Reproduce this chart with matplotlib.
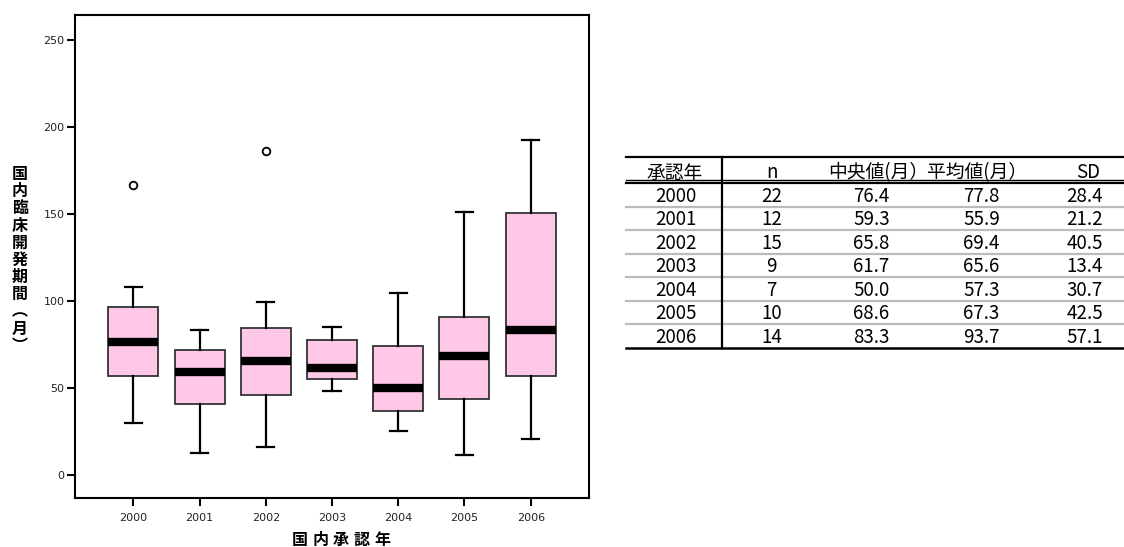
import matplotlib
matplotlib.use('Agg')
import matplotlib.pyplot as plt

plt.rcParams['font.family'] = ['Noto Sans CJK JP', 'DejaVu Sans']

# 箱ひげ図のデータ
years = ['2000', '2001', '2002', '2003', '2004', '2005', '2006']
whis_lo = [30.1, 12.8, 16.3, 48.5, 25.3, 11.7, 20.5]
q1 = [56.9, 40.8, 46.0, 55.4, 36.8, 43.5, 56.9]
medians = [76.4, 59.3, 65.8, 61.7, 50.0, 68.6, 83.3]
q3 = [96.4, 71.8, 84.3, 77.6, 74.3, 91.0, 150.6]
whis_hi = [108.2, 83.3, 99.4, 85.2, 104.6, 151.3, 192.5]
outliers = [[166.7], [], [186.2], [], [], [], []]

# 表のデータ
tbl_header = ['承認年', 'n', '中央値(月）', '平均値(月）', 'SD']
tbl_n = ['22', '12', '15', '9', '7', '10', '14']
tbl_med = ['76.4', '59.3', '65.8', '61.7', '50.0', '68.6', '83.3']
tbl_mean = ['77.8', '55.9', '69.4', '65.6', '57.3', '67.3', '93.7']
tbl_sd = ['28.4', '21.2', '40.5', '13.4', '30.7', '42.5', '57.1']

ylabel = '国内臨床開発期間︵月︶'
xlabel = '国内承認年'

W, H = 1124, 547
fig = plt.figure(figsize=(W / 100, H / 100), dpi=100)

# 箱ひげ図
ax = fig.add_axes([75 / W, 1 - 498 / H, (589 - 75) / W, (498 - 15) / H])
stats = []
for i in range(len(years)):
    stats.append({'whislo': whis_lo[i], 'q1': q1[i], 'med': medians[i],
                  'q3': q3[i], 'whishi': whis_hi[i], 'fliers': outliers[i]})
ax.bxp(stats, positions=range(len(years)), widths=0.755, capwidths=0.26,
       patch_artist=True,
       boxprops=dict(facecolor='#ffc8e8', edgecolor='#333333', linewidth=1.3),
       whiskerprops=dict(color='black', linewidth=1.6),
       capprops=dict(color='black', linewidth=1.6),
       medianprops=dict(color='black', linewidth=6, solid_capstyle='butt'),
       flierprops=dict(marker='o', markerfacecolor='none', markeredgecolor='black',
                       markersize=5.5, markeredgewidth=1.3))
ax.set_xticks(range(len(years)))
ax.set_xticklabels(years)
ax.set_xlim(-0.88, 6.88)
ax.set_ylim(-13.2, 264.4)
ax.set_yticks([0, 50, 100, 150, 200, 250])
for s in ax.spines.values():
    s.set_linewidth(1.5)
    s.set_color('black')
ax.tick_params(axis='y', length=5.5, width=1.5, pad=2, labelsize=8, labelcolor='#222222')
ax.tick_params(axis='x', length=5.5, width=1.5, pad=5, labelsize=8, labelcolor='#222222')
for lab in ax.get_xticklabels() + ax.get_yticklabels():
    lab.set_family('DejaVu Sans')

# 文字と表は画素座標の重ね軸で描く
ov = fig.add_axes([0, 0, 1, 1])
ov.set_xlim(0, W)
ov.set_ylim(H, 0)
ov.axis('off')

# 縦書きの軸ラベル
for i, ch in enumerate(ylabel):
    ov.text(20, 173 + 17.2 * i + 6, ch, ha='center', va='baseline',
            fontsize=11.5, fontweight='bold')
for i, ch in enumerate(xlabel):
    ov.text(300 + 20.5 * i, 545, ch, ha='center', va='baseline',
            fontsize=11.5, fontweight='bold')

# 表
x0, x1 = 626, W
ov.plot([x0, x1], [156.7, 156.7], color='black', lw=1.6)
ov.plot([x0, x1], [179.5, 179.5], color='black', lw=1.0)
ov.plot([x0, x1], [182.8, 182.8], color='black', lw=1.6)
ov.plot([x0, x1], [347.7, 347.7], color='black', lw=1.8)
ov.plot([721.7, 721.7], [156.7, 347.7], color='black', lw=1.6)

row_h = (347.7 - 183) / len(years)
for i in range(1, len(years)):
    yy = 183 + row_h * i
    ov.plot([x0, x1], [yy, yy], color='#bbbbbb', lw=1.6, zorder=1)

fs = 13.5
hb = 178.5
ov.text(675, hb, tbl_header[0], ha='center', va='baseline', fontsize=fs)
ov.text(771.7, hb, tbl_header[1], ha='center', va='baseline', fontsize=fs)
ov.text(828, hb, tbl_header[2], ha='left', va='baseline', fontsize=fs)
ov.text(927, hb, tbl_header[3], ha='left', va='baseline', fontsize=fs)
ov.text(1088, hb, tbl_header[4], ha='center', va='baseline', fontsize=fs)

col_x = [676, 771.7, 871.5, 981.5, 1085]
for i in range(len(years)):
    base = 183 + row_h * (i + 0.5) + 7
    vals = [years[i], tbl_n[i], tbl_med[i], tbl_mean[i], tbl_sd[i]]
    for cx, v in zip(col_x, vals):
        ov.text(cx, base, v, ha='center', va='baseline', fontsize=fs)

fig.savefig('out.png', dpi=100)
